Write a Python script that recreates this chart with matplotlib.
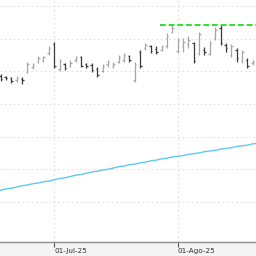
import numpy as np
import matplotlib
matplotlib.use('Agg')
import matplotlib.pyplot as plt

# daily bars, 17-Jun-25 .. 22-Aug-25 (trading days)
dates = ['17-Jun', '18-Jun', '19-Jun', '20-Jun', '23-Jun', '24-Jun', '25-Jun', '26-Jun',
         '27-Jun', '30-Jun', '01-Jul', '02-Jul', '03-Jul', '04-Jul', '07-Jul', '08-Jul',
         '09-Jul', '10-Jul', '11-Jul', '14-Jul', '15-Jul', '16-Jul', '17-Jul', '18-Jul',
         '21-Jul', '22-Jul', '23-Jul', '24-Jul', '25-Jul', '28-Jul', '29-Jul', '30-Jul',
         '31-Jul', '01-Ago', '04-Ago', '05-Ago', '06-Ago', '07-Ago', '08-Ago', '11-Ago',
         '12-Ago', '13-Ago', '14-Ago', '15-Ago', '18-Ago', '19-Ago', '20-Ago', '21-Ago',
         '22-Ago']

highs = [10.96, 10.93, 10.91, 10.93, 10.91, 11.14, 11.13, 11.23, 11.23, 11.39,
         11.45, 11.19, 11.13, 11.17, 11.23, 11.23, 11.13, 11.13, 11.07, 11.11,
         11.17, 11.14, 11.25, 11.28, 11.25, 11.14, 11.33, 11.43, 11.40, 11.39,
         11.40, 11.58, 11.71, 11.51, 11.51, 11.54, 11.45, 11.60, 11.37, 11.46,
         11.68, 11.71, 11.43, 11.42, 11.36, 11.33, 11.20, 11.17, 11.17]
lows = [10.85, 10.87, 10.82, 10.84, 10.81, 10.97, 11.04, 11.13, 11.14, 11.25,
        11.05, 11.00, 11.02, 11.07, 11.14, 11.07, 11.05, 10.99, 10.91, 10.99,
        11.07, 11.05, 11.13, 11.14, 11.14, 10.84, 11.05, 11.33, 11.28, 11.26,
        11.31, 11.36, 11.58, 11.28, 11.29, 11.36, 11.13, 11.25, 11.25, 11.25,
        11.48, 11.40, 11.29, 11.22, 11.14, 11.13, 11.05, 11.10, 11.11]
opens = [10.93, 10.91, 10.90, 10.87, 10.88, 10.99, 11.06, 11.14, 11.17, 11.28,
         11.42, 11.03, 11.11, 11.08, 11.17, 11.22, 11.11, 11.10, 11.03, 11.00,
         11.11, 11.08, 11.14, 11.17, 11.23, 10.87, 11.29, 11.36, 11.39, 11.34,
         11.32, 11.39, 11.60, 11.31, 11.39, 11.42, 11.43, 11.26, 11.33, 11.26,
         11.51, 11.66, 11.40, 11.25, 11.32, 11.16, 11.17, 11.13, 11.14]
closes = [10.88, 10.90, 10.85, 10.90, 10.87, 11.11, 11.09, 11.20, 11.22, 11.36,
          11.08, 11.16, 11.05, 11.13, 11.22, 11.08, 11.08, 11.02, 10.94, 11.08,
          11.14, 11.11, 11.22, 11.25, 11.17, 11.11, 11.08, 11.40, 11.31, 11.29,
          11.37, 11.54, 11.66, 11.48, 11.45, 11.48, 11.16, 11.57, 11.29, 11.43,
          11.63, 11.43, 11.36, 11.38, 11.20, 11.29, 11.08, 11.14, 11.16]

# long moving average (cyan line)
ma = [9.18, 9.20, 9.21, 9.23, 9.25, 9.26, 9.28, 9.29, 9.31, 9.32,
      9.34, 9.36, 9.37, 9.39, 9.41, 9.42, 9.44, 9.46, 9.47, 9.49,
      9.50, 9.52, 9.54, 9.55, 9.57, 9.58, 9.60, 9.61, 9.63, 9.64,
      9.66, 9.67, 9.69, 9.70, 9.71, 9.73, 9.74, 9.75, 9.77, 9.78,
      9.79, 9.81, 9.82, 9.83, 9.85, 9.86, 9.87, 9.89, 9.90]

resistance = 11.70
resistance_start = 30  # 29-Jul
tick_labels = {'01-Jul': '01-Jul-25', '01-Ago': '01-Ago-25'}
y_grid = [9.0, 9.5, 10.0, 10.5, 11.0, 11.5, 12.0]

x = np.arange(len(dates))
o = np.array(opens)
c = np.array(closes)
up = c >= o
col = np.where(up, '#a6a6a6', '#3a3a3a')

fig = plt.figure(figsize=(2.56, 2.56), dpi=100, facecolor='#f4f4f4')
ax = fig.add_axes([0, 14/256, 1, 242/256])
ax.set_facecolor('white')

# grid
for g in y_grid:
    ax.axhline(g, color='#e0e0e0', lw=0.8, ls=(0, (1.5, 2.5)), zorder=0)
tick_pos = [dates.index(d) for d in tick_labels]
for t in tick_pos:
    ax.axvline(t, color='#e0e0e0', lw=0.8, ls=(0, (1.5, 2.5)), zorder=0)

# moving average
ax.plot(x, ma, color='#5fc8ee', lw=1.0, zorder=2)

# OHLC bars
ax.vlines(x, lows, highs, colors=col, lw=0.9, zorder=3)
ax.hlines(o, x - 0.28, x, colors=col, lw=0.9, zorder=3)
ax.hlines(c, x, x + 0.28, colors=col, lw=0.9, zorder=3)

# resistance
ax.plot([resistance_start - 0.2, len(dates) + 2], [resistance, resistance],
        color='#19e019', lw=1.3, ls=(0, (3.2, 1.6)), zorder=4)

ax.set_xlim(-0.1, 47.6)
ax.set_ylim(8.389, 12.089)
ax.set_yticks([])
for s in ['top', 'left', 'right']:
    ax.spines[s].set_visible(False)
ax.spines['bottom'].set_color('#8c8c8c')
ax.spines['bottom'].set_linewidth(1.0)

ax.set_xticks(tick_pos)
ax.set_xticklabels(list(tick_labels.values()), fontsize=5.2, color='#333333',
                   family='DejaVu Sans')
for lbl in ax.get_xticklabels():
    lbl.set_horizontalalignment('left')
ax.tick_params(axis='x', length=3.5, width=0.8, color='#555555', pad=0.5)

fig.savefig('out.png', dpi=100, facecolor=fig.get_facecolor())
